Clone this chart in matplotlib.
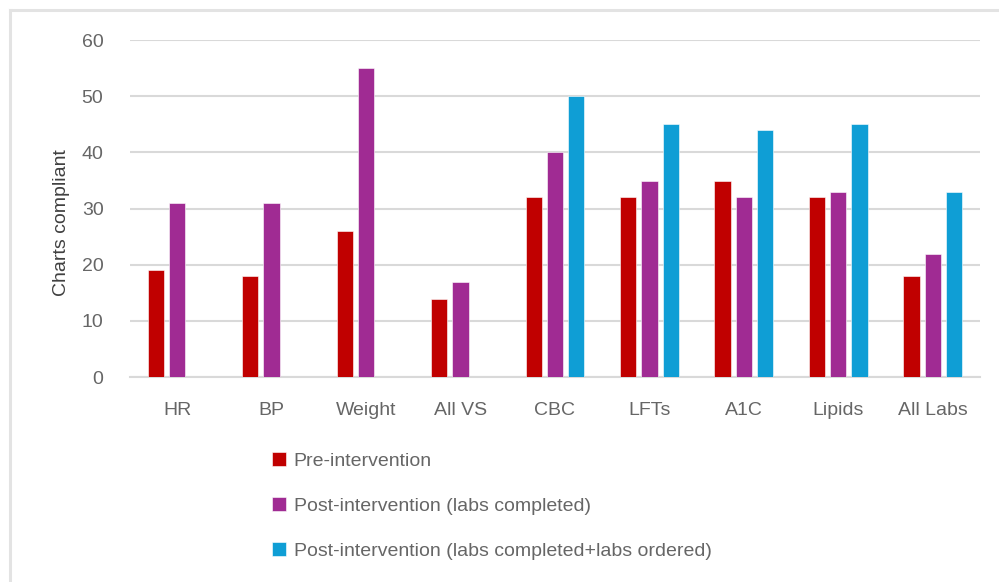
import numpy as np
import matplotlib.pyplot as plt
from matplotlib.lines import Line2D
from matplotlib.patches import Patch

categories = ['HR', 'BP', 'Weight', 'All VS', 'CBC', 'LFTs', 'A1C', 'Lipids', 'All Labs']
pre = [19, 18, 26, 14, 32, 32, 35, 32, 18]
post_completed = [31, 31, 55, 17, 40, 35, 32, 33, 22]
post_ordered = [np.nan, np.nan, np.nan, np.nan, 50, 45, 44, 45, 33]
series_names = ['Pre-intervention',
                'Post-intervention (labs completed)',
                'Post-intervention (labs completed+labs ordered)']

colors = ['#C00000', '#A02B93', '#0F9ED5']
grey = '#666666'
font = ['Liberation Sans Narrow', 'Liberation Sans', 'DejaVu Sans']
plt.rcParams['font.family'] = font

fig = plt.figure(figsize=(9.99, 5.82), dpi=100)
ax = fig.add_axes([0.130, 0.352, 0.851, 0.579])

x = np.arange(len(categories))
step = 0.225
width = 0.172
for k, vals in enumerate([pre, post_completed, post_ordered]):
    ax.bar(x + (k - 1) * step, vals, width, color=colors[k],
           edgecolor='white', linewidth=0.4, zorder=3)

ax.set_xlim(-0.5, len(categories) - 0.5)
ax.set_ylim(0, 60)
ax.set_yticks(range(0, 61, 10))
ax.set_xticks(x)
ax.set_xticklabels(categories)
ax.grid(axis='y', color='#d9d9d9', linewidth=1.5, zorder=0)
ax.tick_params(axis='both', length=0, labelsize=14, labelcolor=grey)
ax.tick_params(axis='y', pad=19)
ax.tick_params(axis='x', pad=18)
for s in ['top', 'right', 'left']:
    ax.spines[s].set_visible(False)
ax.spines['bottom'].set_color('#d9d9d9')
ax.spines['bottom'].set_linewidth(1.5)

ax.set_ylabel('Charts compliant', fontsize=14, color='#404040')
ax.yaxis.set_label_coords(-0.071, 0.46)

# legend below the chart
handles = [Patch(facecolor=c, edgecolor='white', linewidth=0.4) for c in colors]
leg = fig.legend(handles, series_names, loc='upper left',
                 bbox_to_anchor=(0.255, 0.253), frameon=False,
                 fontsize=14, labelcolor=grey, handlelength=0.7,
                 handleheight=0.7, handletextpad=0.4, labelspacing=1.4)

# outer border (only top and left edges visible)
fig.add_artist(Line2D([0.010, 1.0], [0.983, 0.983], color='#e3e3e3', lw=2.2,
                      transform=fig.transFigure))
fig.add_artist(Line2D([0.010, 0.010], [0.0, 0.983], color='#e3e3e3', lw=2.2,
                      transform=fig.transFigure))

fig.savefig('out.png', dpi=100)
